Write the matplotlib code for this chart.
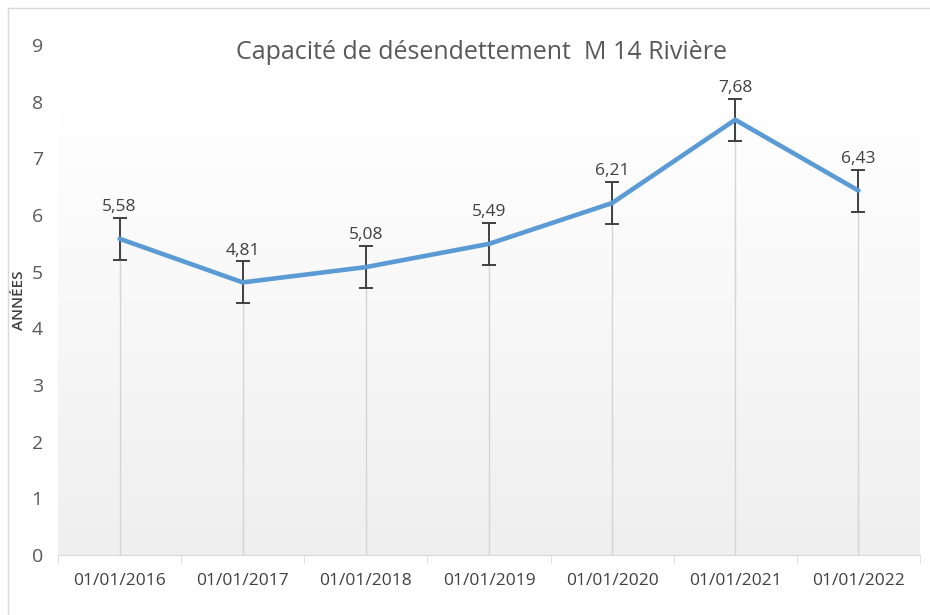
import numpy as np
import matplotlib.pyplot as plt
from matplotlib.colors import LinearSegmentedColormap
from matplotlib.lines import Line2D

# donnees
dates = ["01/01/2016", "01/01/2017", "01/01/2018", "01/01/2019",
         "01/01/2020", "01/01/2021", "01/01/2022"]
annees = [5.58, 4.81, 5.08, 5.49, 6.21, 7.68, 6.43]
erreur = [0.37, 0.37, 0.37, 0.37, 0.37, 0.37, 0.37]  # erreur type
titre = "Capacité de désendettement  M 14 Rivière"

plt.rcParams["font.family"] = ["Open Sans", "DejaVu Sans"]

fig = plt.figure(figsize=(9.3, 6.15), dpi=100)
ax = fig.add_axes([0.0624, 0.0976, 0.9268, 0.8293])

x = np.arange(len(dates))

# fond degrade de la zone de trace
grad = np.linspace(0, 1, 256).reshape(-1, 1)
cmap = LinearSegmentedColormap.from_list("fond", ["#efefef", "#ffffff"])
ax.imshow(grad, extent=(-0.5, 6.5, 0, 7.95), origin="lower", aspect="auto",
          cmap=cmap, zorder=0)

# lignes de projection
ax.vlines(x, 0, annees, color="#d4d4d4", lw=1.0, zorder=1)

# courbe + barres d'erreur
ax.errorbar(x, annees, yerr=erreur, color="#5b9bd5", lw=3.3, zorder=3,
            ecolor="#404040", elinewidth=1.4, capsize=5, capthick=1.4,
            solid_capstyle="round")

# etiquettes de donnees
for xi, v, e in zip(x, annees, erreur):
    ax.annotate(f"{v:.2f}".replace(".", ","), (xi, v + e),
                xytext=(0, 2), textcoords="offset points",
                ha="center", va="bottom", fontsize=12.5, color="#404040")

ax.set_xlim(-0.5, 6.5)
ax.set_ylim(0, 9)
ax.set_yticks(range(10))
ax.set_xticks(x)
ax.set_xticklabels(dates)
ax.set_xticks(np.arange(-0.5, 7, 1), minor=True)

for s in ["top", "right", "left"]:
    ax.spines[s].set_visible(False)
ax.spines["bottom"].set_color("#d9d9d9")

ax.tick_params(axis="x", which="major", length=0, pad=13,
               labelsize=12.5, labelcolor="#404040")
ax.tick_params(axis="x", which="minor", length=6, color="#d9d9d9",
               direction="out")
ax.tick_params(axis="y", length=0, pad=11, labelsize=14,
               labelcolor="#595959")

ax.set_ylabel("ANNÉES", fontsize=11, color="#404040", fontweight="semibold")
ax.yaxis.set_label_coords(-0.037, 0.5)

fig.text(0.518, 0.914, titre, ha="center", va="center", fontsize=18,
         color="#595959")

# cadre du graphique (haut et gauche visibles)
fig.add_artist(Line2D([8 / 930, 8 / 930], [0, 1 - 8 / 615],
                      color="#d9d9d9", lw=1))
fig.add_artist(Line2D([8 / 930, 1], [1 - 8 / 615, 1 - 8 / 615],
                      color="#d9d9d9", lw=1))

fig.savefig("out.png", dpi=100)
